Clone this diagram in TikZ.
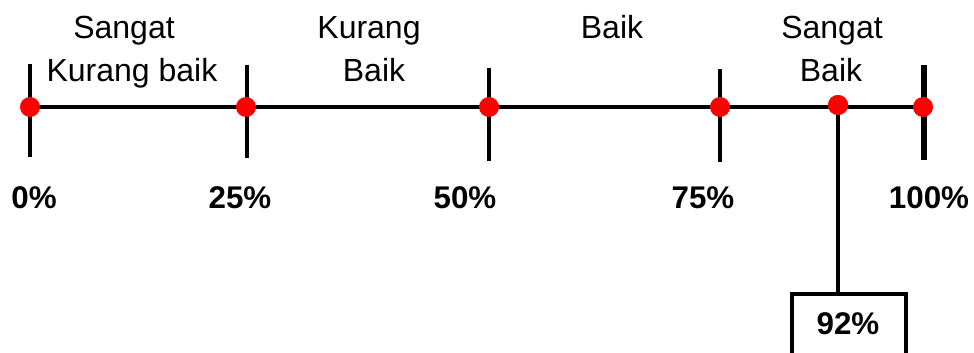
\documentclass[tikz,border=0pt]{standalone}
\usepackage{fontspec}
\setmainfont{Liberation Sans}
\begin{document}
\begin{tikzpicture}[x=0.75pt,y=-0.75pt,
  axis/.style={line width=3pt,black},
  tick/.style={line width=3pt,black},
  dot/.style={circle,fill=red,inner sep=0pt,minimum size=15pt},
  pct/.style={font=\fontsize{23.5}{28}\selectfont\bfseries,anchor=base,inner sep=0pt},
  cat/.style={font=\fontsize{24}{28}\selectfont,anchor=base,inner sep=0pt},
  valbox/.style={draw,line width=3pt,minimum width=86pt,minimum height=60pt,anchor=north}]
\useasboundingbox (0,0) rectangle (974,353);
\begin{scope}
\clip (0,0) rectangle (974,353);
% ticks
\coordinate (t0a) at (30,64);  \coordinate (t0b) at (30,157);
\coordinate (t1a) at (247,65); \coordinate (t1b) at (247,158);
\coordinate (t2a) at (489,68); \coordinate (t2b) at (489,161);
\coordinate (t3a) at (720,69); \coordinate (t3b) at (720,162);
\coordinate (t4a) at (924,65); \coordinate (t4b) at (924,160);
\draw[tick] (t0a) -- (t0b);
\draw[tick] (t1a) -- (t1b);
\draw[tick] (t2a) -- (t2b);
\draw[tick] (t3a) -- (t3b);
\draw[line width=3.8pt] (t4a) -- (t4b);
\coordinate (L) at (30,107);
\coordinate (R) at (923,107);
\draw[axis] (L) -- (R);
% box and connector
\node[valbox] (box) at (849,292) {};
\node[pct] (v) at (848,334) {92\%};
\node[dot] (d0) at (30,107) {};
\node[dot] (d1) at (246,107) {};
\node[dot] (d2) at (489,107) {};
\node[dot] (d3) at (720,107) {};
\node[dot] (d92) at (838,105) {};
\node[dot] (d4) at (923,107) {};
\draw[line width=3pt] (d92.center) -- (box.north -| d92.center);
\node[dot] at (838,105) {};
\end{scope}
% percent labels
\node[pct] (p0) at (34,208) {0\%};
\node[pct] (p25) at (240,208) {25\%};
\node[pct] (p50) at (465,208) {50\%};
\node[pct] (p75) at (703,208) {75\%};
\node[pct] (p100) at (929,208) {100\%};
% category labels
\node[cat] (c1a) at (124,39) {Sangat};
\node[cat] (c1b) at (132,82) {Kurang baik};
\node[cat] (c2a) at (369,39) {Kurang};
\node[cat] (c2b) at (374,82) {Baik};
\node[cat] (c3) at (612,39) {Baik};
\node[cat] (c4a) at (832,39) {Sangat};
\node[cat] (c4b) at (831,82) {Baik};
\end{tikzpicture}
\end{document}
